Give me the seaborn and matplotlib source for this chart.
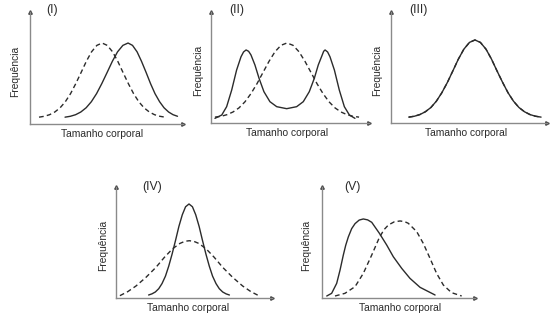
import matplotlib
matplotlib.use("Agg")
import matplotlib.pyplot as plt
import seaborn as sns

# curves, x and y in % of each axis length
# (I)
i_dash_x = [5.9, 9.4, 12.8, 16.2, 19.7, 23.1, 26.5, 29.9, 33.4, 36.8, 40.2, 43.7, 47.1,
            50.5, 54.0, 57.4, 60.8, 64.3, 67.7, 71.1, 74.5, 78.0, 81.4, 84.8, 88.3]
i_dash_y = [6.1, 6.9, 8.3, 10.7, 14.5, 19.9, 27.1, 36.0, 46.0, 55.9, 64.4, 70.2, 72.3,
            70.2, 64.4, 55.9, 46.0, 36.0, 27.1, 19.9, 14.5, 10.7, 8.3, 6.9, 6.1]
i_solid_x = [22.9, 26.4, 29.8, 33.2, 36.7, 40.1, 43.5, 46.9, 50.4, 53.8, 57.2, 60.7, 64.1,
             67.0, 70.0, 72.9, 75.9, 78.8, 81.7, 84.7, 87.6, 90.6, 93.5, 96.4]
i_solid_y = [6.1, 6.9, 8.3, 10.7, 14.5, 19.9, 27.1, 36.0, 46.0, 55.9, 64.4, 70.2, 72.3,
             70.2, 64.4, 55.9, 46.0, 36.0, 27.1, 19.9, 14.5, 10.7, 8.3, 6.9]

# (II)
ii_dash_x = [2.5, 6.3, 10.1, 13.9, 17.7, 21.5, 25.3, 29.1, 32.9, 36.7, 40.5, 44.3, 48.1,
             51.9, 55.7, 59.5, 63.3, 67.1, 70.9, 74.7, 78.5, 82.3, 86.1, 89.9, 93.7]
ii_dash_y = [5.3, 6.0, 7.5, 9.9, 13.6, 19.1, 26.5, 35.4, 45.5, 55.5, 64.2, 70.0, 72.1,
             70.0, 64.2, 55.5, 45.5, 35.4, 26.5, 19.1, 13.6, 9.9, 7.5, 6.0, 5.3]
ii_solid_x = [2.5, 6.8, 9.9, 13.1, 16.2, 19.0, 20.6, 22.2, 23.8, 25.3, 27.8, 30.4, 33.5,
              37.3, 41.6, 47.9, 54.2, 58.4, 62.2, 65.4, 67.9, 70.4, 71.3, 72.2, 73.8,
              75.3, 78.1, 81.2, 84.4, 87.6, 91.1]
ii_solid_y = [4.2, 7.2, 14.7, 29.7, 47.7, 59.7, 64.0, 65.8, 64.6, 61.3, 52.3, 40.3, 28.2,
              19.2, 14.7, 12.9, 14.7, 19.2, 28.2, 40.3, 52.3, 61.3, 64.6, 65.8, 64.0,
              59.7, 47.7, 29.7, 14.7, 7.2, 4.2]

# (III) both curves coincide
iii_x = [11.4, 15.0, 18.5, 22.0, 25.6, 29.1, 32.6, 36.2, 39.7, 43.2, 46.7, 50.3, 53.8,
         57.3, 60.9, 64.4, 67.9, 71.5, 75.0, 78.5, 82.0, 85.6, 89.1, 92.6, 96.2]
iii_y = [5.3, 6.1, 7.6, 10.1, 14.0, 19.7, 27.3, 36.7, 47.1, 57.6, 66.5, 72.6, 74.8,
         72.6, 66.5, 57.6, 47.1, 36.7, 27.3, 19.7, 14.0, 10.1, 7.6, 6.1, 5.3]

# (IV)
iv_solid_x = [20.9, 23.0, 25.2, 27.4, 29.5, 31.7, 33.8, 36.0, 38.2, 40.3, 42.5, 44.6, 46.8,
              49.0, 51.1, 53.3, 55.4, 57.6, 59.8, 61.9, 64.1, 66.2, 68.4, 70.6, 72.7]
iv_solid_y = [2.7, 3.7, 5.4, 8.4, 13.0, 19.7, 28.7, 39.8, 52.1, 64.4, 75.0, 82.2, 84.7,
              82.2, 75.0, 64.4, 52.1, 39.8, 28.7, 19.7, 13.0, 8.4, 5.4, 3.7, 2.7]
iv_dash_x = [2.5, 7.5, 12.8, 19.2, 25.6, 31.0, 36.3, 41.0, 44.2, 47.0,
             49.8, 53.0, 57.7, 63.0, 68.4, 74.8, 81.2, 86.5, 91.5]
iv_dash_y = [2.1, 5.7, 10.8, 18.6, 27.6, 36.6, 44.4, 49.2, 51.1, 51.6,
             51.1, 49.2, 44.4, 36.6, 27.6, 18.6, 10.8, 5.7, 2.1]

# (V)
v_solid_x = [3.1, 6.3, 9.6, 11.8, 13.9, 15.5, 17.2, 19.4, 21.6, 24.3, 27.0, 29.8, 32.5,
             37.5, 42.3, 46.6, 52.1, 57.5, 64.1, 73.9]
v_solid_y = [1.8, 4.2, 13.2, 25.2, 38.5, 47.5, 55.0, 62.5, 67.0, 70.2, 71.2, 70.4, 68.2,
             58.3, 47.7, 37.2, 26.7, 17.7, 9.6, 2.7]
v_dash_x = [8.5, 15.0, 21.6, 27.0, 32.5, 37.5, 40.5, 43.4, 47.2, 51.0, 54.0, 56.4, 61.9,
            66.2, 70.6, 74.9, 79.3, 84.7, 91.3]
v_dash_y = [1.8, 4.2, 10.2, 22.2, 38.7, 54.5, 61.5, 65.8, 68.6, 69.4, 68.8, 67.3, 59.8,
            49.2, 35.7, 22.2, 11.7, 4.8, 1.8]

titles = ["(I)", "(II)", "(III)", "(IV)", "(V)"]
xlabel = "Tamanho corporal"
ylabel = "Frequência"

sns.set_style("white")
plt.rcParams["font.family"] = ["Liberation Sans", "DejaVu Sans"]

W, H = 556, 319
fig = plt.figure(figsize=(W / 100, H / 100), dpi=100)

# axis boxes in pixels: left, right, bottom, top
boxes = [(30, 183, 124, 12), (211, 369, 123, 12), (391, 547, 123, 12),
         (116, 272, 298, 187), (322, 475, 298, 187)]
title_x = [0.144, 0.165, 0.173, 0.23, 0.20]
title_y = [1.02, 1.02, 1.02, 1.0, 1.0]
xl_x = [0.47, 0.48, 0.48, 0.46, 0.51]
yl_x = [-0.098, -0.082, -0.09, -0.083, -0.105]

curves = [
    [(i_solid_x, i_solid_y, "-"), (i_dash_x, i_dash_y, "--")],
    [(ii_solid_x, ii_solid_y, "-"), (ii_dash_x, ii_dash_y, "--")],
    [(iii_x, iii_y, "-"), (iii_x, iii_y, "--")],
    [(iv_solid_x, iv_solid_y, "-"), (iv_dash_x, iv_dash_y, "--")],
    [(v_solid_x, v_solid_y, "-"), (v_dash_x, v_dash_y, "--")],
]

ink = "#2b2b2b"
for n, (l, r, b, t) in enumerate(boxes):
    ax = fig.add_axes([l / W, (H - b) / H, (r - l) / W, (b - t) / H])
    for xs, ys, ls in curves[n]:
        sns.lineplot(x=xs, y=ys, ax=ax, color=ink, linewidth=1.0, linestyle=ls)
        ax.lines[-1].set_solid_joinstyle("round")
        if ls == "--":
            ax.lines[-1].set_dashes([3.4, 2.3])
    ax.set_xlim(0, 100)
    ax.set_ylim(0, 100)
    ax.set_xticks([])
    ax.set_yticks([])
    ax.set_xlabel("")
    ax.set_ylabel("")
    for s in ["top", "right"]:
        ax.spines[s].set_visible(False)
    for s in ["left", "bottom"]:
        ax.spines[s].set_color("#8a8a8a")
        ax.spines[s].set_linewidth(1.0)
    ax.plot(1, 0, ">", color="#444444", ms=2.5, transform=ax.transAxes, clip_on=False)
    ax.plot(0, 1, "^", color="#444444", ms=2.5, transform=ax.transAxes, clip_on=False)
    ax.text(title_x[n], title_y[n], titles[n], transform=ax.transAxes, ha="center",
            va="center", fontsize=8.8, color=ink)
    ax.text(xl_x[n], -0.09, xlabel, transform=ax.transAxes, ha="center", va="center",
            fontsize=7.4, color=ink)
    ax.text(yl_x[n], 0.47, ylabel, transform=ax.transAxes, ha="center", va="center",
            rotation=90, fontsize=7.4, color=ink)

fig.savefig("out.png", dpi=100)
